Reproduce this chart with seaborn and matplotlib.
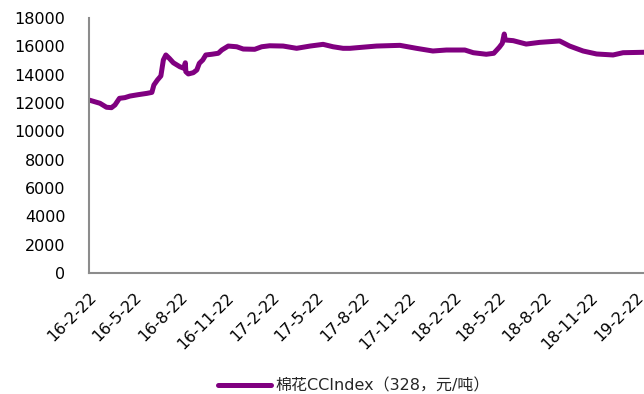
import matplotlib
matplotlib.use("Agg")
import matplotlib.pyplot as plt
import matplotlib.transforms as mtransforms
import seaborn as sns
import pandas as pd
import numpy as np

# ---- data ----
start_date = "2016-02-22"
day_offsets = [0, 22, 35, 45, 52, 61, 72, 82, 99, 116, 126, 130, 137, 144, 149, 154,
               161, 169, 182, 190, 193, 194, 199, 209, 216, 221, 228, 234, 246, 259,
               266, 279, 296, 309, 332, 346, 362, 389, 416, 443, 469, 489, 509, 523,
               536, 576, 623, 656, 689, 716, 753, 770, 796, 811, 822, 828, 832, 834,
               850, 876, 903, 943, 963, 990, 1017, 1050, 1070, 1112]
cc_index = [12210, 11980, 11700, 11670, 11860, 12330, 12380, 12490, 12590, 12680,
            12750, 13270, 13620, 13910, 15040, 15390, 15150, 14840, 14560, 14450,
            14840, 14210, 14050, 14140, 14330, 14800, 15040, 15390, 15440, 15510,
            15740, 16020, 15970, 15810, 15790, 15970, 16040, 16020, 15860, 16020,
            16140, 15970, 15860, 15860, 15900, 16020, 16070, 15860, 15670, 15740,
            15740, 15550, 15440, 15510, 15930, 16210, 16870, 16450, 16400, 16160,
            16280, 16380, 16020, 15670, 15460, 15390, 15550, 15580]
series_name = "棉花CCIndex（328，元/吨）"
tick_labels = ["16-2-22", "16-5-22", "16-8-22", "16-11-22", "17-2-22", "17-5-22",
               "17-8-22", "17-11-22", "18-2-22", "18-5-22", "18-8-22", "18-11-22", "19-2-22"]
y_ticks = [0, 2000, 4000, 6000, 8000, 10000, 12000, 14000, 16000, 18000]

# ---- build frame ----
dates = pd.to_datetime(start_date) + pd.to_timedelta(day_offsets, unit="D")
df = pd.DataFrame({"date": dates, "value": cc_index, "series": series_name})
tick_dates = pd.to_datetime(["20" + t.split("-")[0] + "-" + t.split("-")[1] + "-" + t.split("-")[2]
                             for t in tick_labels])

sns.set_style("white")
plt.rcParams["font.family"] = ["DejaVu Sans", "Noto Sans CJK SC"]

fig = plt.figure(figsize=(6.44, 3.94), dpi=100)
ax = fig.add_axes([89 / 644, 1 - 273 / 394, 1 - 89 / 644, (273 - 18) / 394])

purple = "#800080"
sns.lineplot(data=df, x="date", y="value", hue="series", palette=[purple],
             linewidth=3.6, ax=ax, legend=True)

ax.set_xlim(pd.to_datetime(start_date), pd.to_datetime(start_date) + pd.Timedelta(days=1112))
ax.set_ylim(0, 18000)
ax.set_yticks(y_ticks)
ax.set_yticklabels([str(v) for v in y_ticks], fontsize=11.5)
ax.set_xticks(tick_dates)
ax.set_xticklabels(tick_labels, rotation=45, ha="right", rotation_mode="anchor", fontsize=11.5)
ax.set_xlabel("")
ax.set_ylabel("")

offset = mtransforms.ScaledTranslation(-4 / 100, 0, fig.dpi_scale_trans)
for lbl in ax.get_xticklabels():
    lbl.set_transform(lbl.get_transform() + offset)

for side in ["top", "right"]:
    ax.spines[side].set_visible(False)
for side in ["left", "bottom"]:
    ax.spines[side].set_color("#8c8c8c")
    ax.spines[side].set_linewidth(1.5)
ax.tick_params(axis="both", direction="in", length=5, width=1.5, color="#8c8c8c",
               labelcolor="black")
ax.tick_params(axis="y", pad=17)
ax.tick_params(axis="x", pad=12)

leg = ax.legend(loc="center", frameon=False, fontsize=11.5, handlelength=3.3,
                handletextpad=0.3)
for line in leg.get_lines():
    line.set_linewidth(3.6)
leg.set_bbox_to_anchor((354 / 644, 1 - 386 / 394), transform=fig.transFigure)

fig.savefig("out.png", dpi=100)
